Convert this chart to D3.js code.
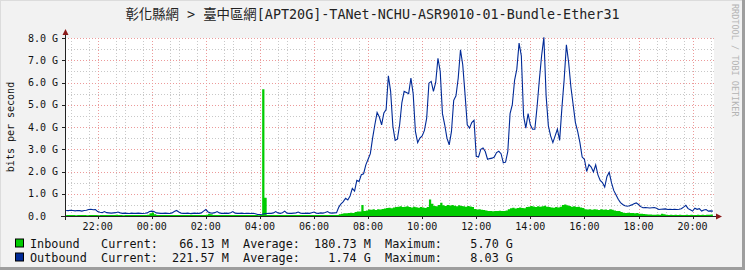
<!DOCTYPE html>
<html>
<head>
<meta charset="utf-8">
<script src="https://cdn.jsdelivr.net/npm/d3@7"></script>
<style>
body { margin: 0; background: #f2f2f2; }
svg { display: block; }
text { font-family: "DejaVu Sans Mono", "Noto Sans CJK TC", monospace; }
</style>
</head>
<body>
<svg width="745" height="270"></svg>
<script>
const title = '彰化縣網 > 臺中區網[APT20G]-TANet-NCHU-ASR9010-01-Bundle-Ether31';
const yLabel = 'bits per second';
const yTicks = [0, 1, 2, 3, 4, 5, 6, 7, 8];          // Gbit/s
const yTickLabels = ['0.0', '1.0 G', '2.0 G', '3.0 G', '4.0 G', '5.0 G', '6.0 G', '7.0 G', '8.0 G'];
const seriesNames = ['Inbound', 'Outbound'];
const seriesColors = ['#00cc00', '#002a97'];
const current = ['66.13 M', '221.57 M'];
const average = ['180.73 M', '1.74 G'];
const maximum = ['5.70 G', '8.03 G'];

// 5-minute samples from 20:50 (Gbit/s)
const inbound = [
  0.04,0.04,0.05,0.04,0.03,0.04,0.05,0.04,0.04,0.03,
  0.04,0.05,0.04,0.04,0.03,0.05,0.04,0.04,0.05,0.04,
  0.04,0.05,0.06,0.04,0.04,0.03,0.04,0.05,0.04,0.04,
  0.05,0.04,0.04,0.05,0.04,0.05,0.06,0.12,0.16,0.08,
  0.05,0.04,0.04,0.05,0.04,0.04,0.05,0.04,0.05,0.04,
  0.04,0.05,0.04,0.04,0.05,0.06,0.05,0.04,0.05,0.04,
  0.04,0.05,0.06,0.10,0.08,0.05,0.04,0.05,0.04,0.04,
  0.05,0.04,0.04,0.05,0.04,0.04,0.05,0.04,0.04,0.05,
  0.04,0.04,0.05,0.04,0.04,0.03,0.04,5.70,0.82,0.05,
  0.04,0.04,0.05,0.04,0.05,0.04,0.04,0.05,0.04,0.04,
  0.05,0.04,0.04,0.05,0.04,0.04,0.05,0.04,0.05,0.04,
  0.04,0.05,0.04,0.05,0.04,0.05,0.04,0.05,0.04,0.05,
  0.05,0.08,0.10,0.12,0.12,0.14,0.15,0.14,0.18,0.20,
  0.20,0.50,0.22,0.25,0.29,0.28,0.30,0.27,0.30,0.29,
  0.32,0.34,0.36,0.37,0.35,0.38,0.40,0.42,0.44,0.40,
  0.42,0.44,0.40,0.38,0.42,0.39,0.37,0.40,0.38,0.36,
  0.40,0.74,0.55,0.45,0.44,0.50,0.59,0.48,0.45,0.50,
  0.47,0.50,0.46,0.44,0.48,0.45,0.44,0.42,0.45,0.43,
  0.40,0.32,0.29,0.30,0.28,0.27,0.25,0.22,0.22,0.21,
  0.23,0.22,0.24,0.22,0.23,0.25,0.30,0.35,0.37,0.34,
  0.36,0.38,0.36,0.35,0.40,0.42,0.45,0.43,0.41,0.44,
  0.42,0.44,0.46,0.42,0.40,0.38,0.37,0.40,0.38,0.42,
  0.50,0.52,0.48,0.45,0.42,0.44,0.40,0.42,0.38,0.36,
  0.30,0.29,0.30,0.28,0.30,0.29,0.27,0.30,0.28,0.29,
  0.27,0.30,0.28,0.25,0.22,0.22,0.18,0.15,0.14,0.15,
  0.13,0.14,0.12,0.13,0.10,0.10,0.09,0.08,0.07,0.07,
  0.06,0.06,0.07,0.06,0.10,0.08,0.06,0.05,0.06,0.05,
  0.06,0.05,0.06,0.05,0.05,0.06,0.05,0.06,0.05,0.05,
  0.06,0.05,0.06,0.05,0.06,0.06,0.07,0.066
];
const outbound = [
  0.25,0.24,0.26,0.25,0.23,0.25,0.24,0.22,0.25,0.26,
  0.29,0.30,0.28,0.29,0.20,0.17,0.15,0.20,0.15,0.14,
  0.13,0.14,0.15,0.18,0.14,0.12,0.13,0.12,0.11,0.13,
  0.12,0.12,0.13,0.12,0.11,0.12,0.14,0.20,0.22,0.20,
  0.14,0.13,0.12,0.12,0.13,0.12,0.11,0.14,0.20,0.25,
  0.18,0.13,0.12,0.12,0.13,0.11,0.12,0.13,0.12,0.12,
  0.14,0.22,0.29,0.18,0.14,0.13,0.15,0.20,0.14,0.12,
  0.12,0.13,0.12,0.15,0.20,0.13,0.12,0.12,0.13,0.11,
  0.12,0.12,0.11,0.12,0.10,0.07,0.07,0.08,0.10,0.11,
  0.12,0.12,0.14,0.20,0.14,0.12,0.15,0.22,0.13,0.12,
  0.12,0.13,0.14,0.18,0.13,0.12,0.12,0.13,0.12,0.15,
  0.18,0.13,0.12,0.14,0.13,0.16,0.20,0.14,0.13,0.14,
  0.15,0.40,0.55,0.65,0.80,0.72,0.90,1.24,1.12,1.60,
  1.55,1.86,1.90,2.30,2.55,2.80,3.50,4.10,4.65,4.45,
  4.10,4.63,4.78,6.30,5.60,4.03,3.40,3.45,4.10,5.10,
  5.60,5.55,5.50,6.20,5.50,3.80,3.30,3.50,3.60,3.85,
  4.40,5.97,6.05,5.60,6.00,7.09,6.50,4.60,4.10,3.50,
  3.20,3.80,5.20,5.40,6.20,7.47,6.80,5.50,4.10,3.95,
  4.20,4.30,2.68,2.65,3.00,3.06,2.90,2.55,2.58,2.60,
  2.65,2.85,2.91,2.80,2.39,2.42,2.90,4.60,5.00,6.10,
  6.60,7.77,7.20,4.50,3.95,4.60,4.10,3.90,3.90,4.92,
  6.12,7.20,8.03,5.40,4.05,3.60,3.30,3.60,3.90,3.40,
  4.85,6.12,7.69,6.90,5.80,5.00,4.20,3.80,3.30,2.65,
  2.55,2.00,2.31,2.20,1.98,2.30,1.85,1.60,1.50,1.30,
  1.78,1.96,1.50,1.15,0.96,0.75,0.60,0.52,0.46,0.44,
  0.46,0.50,0.55,0.59,0.52,0.42,0.37,0.38,0.37,0.36,
  0.37,0.38,0.35,0.29,0.30,0.31,0.32,0.29,0.30,0.29,
  0.30,0.29,0.30,0.33,0.40,0.48,0.33,0.28,0.22,0.35,
  0.30,0.33,0.22,0.27,0.29,0.22,0.23,0.22
];

const svg = d3.select('svg');
const width = +svg.attr('width');
const height = +svg.attr('height');

const start = new Date(2024, 0, 1, 20, 47, 30);
const end = new Date(2024, 0, 2, 20, 47, 30);
const firstSample = new Date(2024, 0, 1, 20, 50, 0);
const times = inbound.map((d, i) => d3.timeMinute.offset(firstSample, 5 * i));

const x = d3.scaleTime().domain([start, end]).range([65, 714]);
const y = d3.scaleLinear().domain([0, 8]).range([216, 38]);
const px = v => Math.round(v) + 0.5;

// frame
svg.append('rect').attr('width', width).attr('height', height).attr('fill', '#f2f2f2');
svg.append('rect').attr('x', width - 3).attr('width', 3).attr('height', height).attr('fill', '#9e9e9e');
svg.append('rect').attr('y', height - 3).attr('width', width).attr('height', 3).attr('fill', '#9e9e9e');
svg.append('rect').attr('width', width - 3).attr('height', 1).attr('fill', '#dcdcdc');
svg.append('rect').attr('width', 1).attr('height', height - 3).attr('fill', '#dcdcdc');

// canvas
svg.append('rect')
    .attr('x', x.range()[0]).attr('y', y(8))
    .attr('width', x.range()[1] - x.range()[0]).attr('height', y(0) - y(8))
    .attr('fill', '#ffffff');

// grid
const grid = svg.append('g');
const minorY = d3.range(0.5, 8, 1);
grid.selectAll('.hmin').data(minorY).join('line')
    .attr('x1', 65).attr('x2', 714)
    .attr('y1', d => px(y(d))).attr('y2', d => px(y(d)))
    .attr('stroke', '#c8c8c8').attr('stroke-dasharray', '1,2');
const minorX = d3.timeMinute.every(40).range(start, end).filter(t => t.getMinutes() !== 0 || t.getHours() % 2 === 1);
grid.selectAll('.vmin').data(minorX).join('line')
    .attr('x1', d => px(x(d))).attr('x2', d => px(x(d)))
    .attr('y1', y(8)).attr('y2', y(0))
    .attr('stroke', '#c8c8c8').attr('stroke-dasharray', '1,2');
grid.selectAll('.hmaj').data(yTicks.slice(1)).join('line')
    .attr('x1', 65).attr('x2', 714)
    .attr('y1', d => px(y(d))).attr('y2', d => px(y(d)))
    .attr('stroke', '#ec9a9a').attr('stroke-dasharray', '1,2');
const majorX = d3.timeHour.every(2).range(start, end);
grid.selectAll('.vmaj').data(majorX).join('line')
    .attr('x1', d => px(x(d))).attr('x2', d => px(x(d)))
    .attr('y1', y(8)).attr('y2', y(0))
    .attr('stroke', '#ec9a9a').attr('stroke-dasharray', '1,2');

// series
const area = d3.area()
    .x((d, i) => x(times[i]))
    .y0(y(0))
    .y1(d => y(d))
    .curve(d3.curveStepAfter);
svg.append('path').datum(inbound)
    .attr('d', area)
    .attr('fill', seriesColors[0]);

const line = d3.line()
    .x((d, i) => x(times[i]))
    .y(d => y(d));
svg.append('path').datum(outbound)
    .attr('d', line)
    .attr('fill', 'none')
    .attr('stroke', seriesColors[1])
    .attr('stroke-width', 1.1);

// axes
const axisColor = '#222';
svg.append('line').attr('x1', 61).attr('x2', 716).attr('y1', 216.5).attr('y2', 216.5).attr('stroke', axisColor);
svg.append('line').attr('x1', 65.5).attr('x2', 65.5).attr('y1', 220).attr('y2', 35).attr('stroke', axisColor);
svg.append('path').attr('d', 'M716,213.5L722,216.5L716,219.5Z').attr('fill', '#8b1a1a');
svg.append('path').attr('d', 'M62.5,35L65.5,29L68.5,35Z').attr('fill', '#8b1a1a');

svg.selectAll('.ytick').data(yTicks).join('line')
    .attr('x1', 62).attr('x2', 65)
    .attr('y1', d => px(y(d))).attr('y2', d => px(y(d)))
    .attr('stroke', axisColor);
svg.selectAll('.xtick').data(majorX).join('line')
    .attr('x1', d => px(x(d))).attr('x2', d => px(x(d)))
    .attr('y1', 216).attr('y2', 219)
    .attr('stroke', axisColor);

svg.selectAll('.ylab').data(yTicks).join('text')
    .attr('x', 28).attr('y', d => y(d) + 3.5)
    .attr('font-size', 10).attr('fill', '#111')
    .text((d, i) => yTickLabels[i]);

const fmt = d3.timeFormat('%H:%M');
svg.selectAll('.xlab').data(majorX).join('text')
    .attr('x', d => x(d)).attr('y', 229.5)
    .attr('text-anchor', 'middle')
    .attr('font-size', 10).attr('fill', '#111')
    .text(d => fmt(d));

svg.append('text')
    .attr('transform', 'translate(14,127) rotate(-90)')
    .attr('text-anchor', 'middle')
    .attr('font-size', 10).attr('fill', '#111')
    .text(yLabel);

svg.append('text')
    .attr('x', 372.5).attr('y', 19)
    .attr('text-anchor', 'middle')
    .attr('font-size', 13.4).attr('fill', '#222')
    .text(title);

svg.append('text')
    .attr('transform', 'translate(732,4) rotate(90)')
    .attr('font-size', 8.5).attr('fill', '#b4b4b4')
    .text('RRDTOOL / TOBI OETIKER');

// legend
const legend = svg.append('g');
seriesNames.forEach((name, i) => {
  const rowY = 247.5 + i * 14;
  legend.append('rect')
      .attr('x', 15.5).attr('y', rowY - 8.5)
      .attr('width', 8).attr('height', 8)
      .attr('fill', seriesColors[i]).attr('stroke', '#000');
  legend.append('text')
      .attr('x', 30).attr('y', rowY)
      .attr('font-size', 11.8).attr('fill', '#111')
      .style('white-space', 'pre')
      .text(name.padEnd(10) + 'Current:' + current[i].padStart(10) +
            '  Average:' + average[i].padStart(10) +
            '  Maximum:' + maximum[i].padStart(10));
});
</script>
</body>
</html>
